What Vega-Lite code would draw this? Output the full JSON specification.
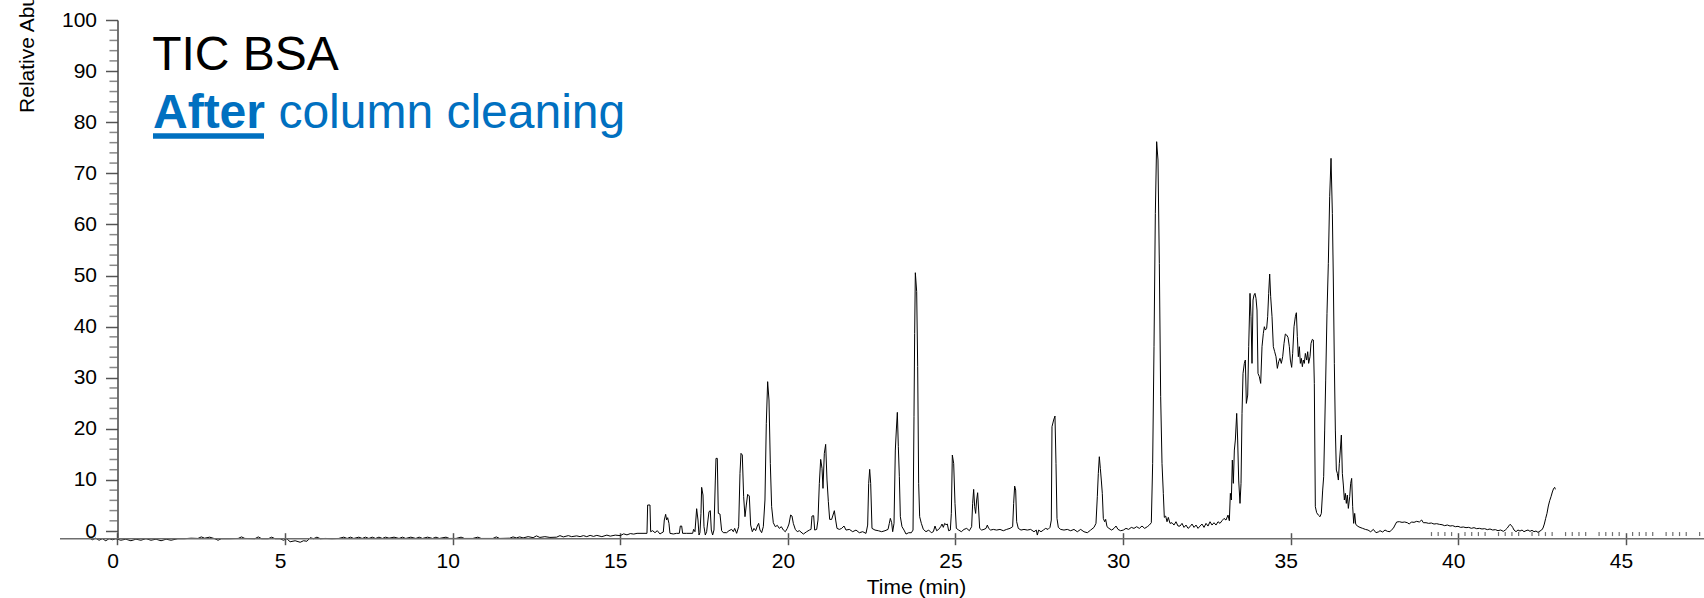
{
  "$schema": "https://vega.github.io/schema/vega-lite/v6.json",
  "autosize": {"type": "none"},
  "padding": {"left": 60, "top": 20, "right": 0, "bottom": 59.3},
  "width": 1644,
  "height": 518.7,
  "background": "white",
  "config": {"view": {"stroke": null}, "font": "Liberation Sans"},
  "datasets": {
    "trace": [
      {"t": -0.85, "v": -1.3}, {"t": -0.75, "v": -1.7}, {"t": -0.65, "v": -1.4}, {"t": -0.55, "v": -1.8}, {"t": -0.45, "v": -1.5},
      {"t": -0.35, "v": -1.9}, {"t": -0.25, "v": -1.5}, {"t": -0.15, "v": -1.7}, {"t": -0.05, "v": -1.5}, {"t": 0.1, "v": -1.8},
      {"t": 0.25, "v": -1.6}, {"t": 0.4, "v": -1.9}, {"t": 0.55, "v": -1.6}, {"t": 0.7, "v": -1.8}, {"t": 0.85, "v": -1.5},
      {"t": 1.0, "v": -1.8}, {"t": 1.15, "v": -1.6}, {"t": 1.3, "v": -1.9}, {"t": 1.45, "v": -1.6}, {"t": 1.6, "v": -1.8},
      {"t": 1.8, "v": -1.5}, {"t": 2.0, "v": -1.5}, {"t": 2.2, "v": -1.4}, {"t": 2.4, "v": -1.45}, {"t": 2.5, "v": -1.15},
      {"t": 2.6, "v": -1.4}, {"t": 2.75, "v": -1.2}, {"t": 2.9, "v": -1.5}, {"t": 3.0, "v": -1.8}, {"t": 3.1, "v": -1.5},
      {"t": 3.35, "v": -1.5}, {"t": 3.6, "v": -1.45}, {"t": 3.7, "v": -1.15}, {"t": 3.8, "v": -1.45}, {"t": 4.1, "v": -1.5},
      {"t": 4.2, "v": -1.15}, {"t": 4.3, "v": -1.5}, {"t": 4.5, "v": -1.5}, {"t": 4.6, "v": -1.2}, {"t": 4.7, "v": -1.5},
      {"t": 4.85, "v": -1.5}, {"t": 4.95, "v": -1.8}, {"t": 5.05, "v": -1.5}, {"t": 5.15, "v": -2.1}, {"t": 5.3, "v": -1.9},
      {"t": 5.45, "v": -2.2}, {"t": 5.55, "v": -1.9}, {"t": 5.65, "v": -2.0}, {"t": 5.75, "v": -1.3}, {"t": 5.85, "v": -1.5},
      {"t": 5.95, "v": -1.2}, {"t": 6.05, "v": -1.5}, {"t": 6.2, "v": -1.45}, {"t": 6.4, "v": -1.5}, {"t": 6.6, "v": -1.45},
      {"t": 6.75, "v": -1.2}, {"t": 6.85, "v": -1.45}, {"t": 6.95, "v": -1.2}, {"t": 7.05, "v": -1.45}, {"t": 7.2, "v": -1.2},
      {"t": 7.3, "v": -1.45}, {"t": 7.4, "v": -1.2}, {"t": 7.5, "v": -1.45}, {"t": 7.6, "v": -1.2}, {"t": 7.7, "v": -1.45},
      {"t": 7.8, "v": -1.2}, {"t": 7.9, "v": -1.45}, {"t": 8.0, "v": -1.2}, {"t": 8.1, "v": -1.4}, {"t": 8.25, "v": -1.2},
      {"t": 8.4, "v": -1.45}, {"t": 8.5, "v": -1.2}, {"t": 8.6, "v": -1.45}, {"t": 8.75, "v": -1.2}, {"t": 8.9, "v": -1.45},
      {"t": 9.0, "v": -1.2}, {"t": 9.1, "v": -1.45}, {"t": 9.25, "v": -1.2}, {"t": 9.4, "v": -1.45}, {"t": 9.5, "v": -1.2},
      {"t": 9.6, "v": -1.45}, {"t": 9.8, "v": -1.2}, {"t": 9.9, "v": -1.45}, {"t": 10.1, "v": -1.45}, {"t": 10.25, "v": -1.2},
      {"t": 10.35, "v": -1.45}, {"t": 10.6, "v": -1.45}, {"t": 10.75, "v": -1.2}, {"t": 10.85, "v": -1.45}, {"t": 11.2, "v": -1.45},
      {"t": 11.3, "v": -1.15}, {"t": 11.4, "v": -1.45}, {"t": 11.7, "v": -1.4}, {"t": 11.8, "v": -1.15}, {"t": 11.9, "v": -1.35},
      {"t": 12.0, "v": -1.15}, {"t": 12.1, "v": -1.35}, {"t": 12.25, "v": -1.1}, {"t": 12.4, "v": -1.3}, {"t": 12.5, "v": -0.95},
      {"t": 12.6, "v": -1.25}, {"t": 12.75, "v": -1.1}, {"t": 12.9, "v": -1.25}, {"t": 13.1, "v": -1.2}, {"t": 13.2, "v": -0.9},
      {"t": 13.3, "v": -1.15}, {"t": 13.45, "v": -0.9}, {"t": 13.55, "v": -1.1}, {"t": 13.7, "v": -0.95}, {"t": 13.8, "v": -1.1},
      {"t": 13.9, "v": -0.9}, {"t": 14.0, "v": -1.1}, {"t": 14.1, "v": -0.85}, {"t": 14.2, "v": -1.05}, {"t": 14.3, "v": -0.85},
      {"t": 14.45, "v": -1.1}, {"t": 14.6, "v": -0.8}, {"t": 14.7, "v": -1.0}, {"t": 14.85, "v": -0.8}, {"t": 15.0, "v": -0.9},
      {"t": 15.1, "v": -0.55}, {"t": 15.2, "v": -0.75}, {"t": 15.3, "v": -0.5}, {"t": 15.4, "v": -0.6}, {"t": 15.5, "v": -0.45},
      {"t": 15.796, "v": -0.45}, {"t": 15.816, "v": 5.09}, {"t": 15.886, "v": 5.09}, {"t": 15.906, "v": -0.13}, {"t": 15.965, "v": 0.07},
      {"t": 16.035, "v": -0.32}, {"t": 16.104, "v": 0.07}, {"t": 16.184, "v": -0.58}, {"t": 16.244, "v": -0.32}, {"t": 16.283, "v": -0.19},
      {"t": 16.313, "v": 2.16}, {"t": 16.353, "v": 3.27}, {"t": 16.383, "v": 2.16}, {"t": 16.413, "v": 2.61}, {"t": 16.452, "v": 1.5},
      {"t": 16.482, "v": -0.45}, {"t": 16.582, "v": -0.58}, {"t": 16.681, "v": -0.45}, {"t": 16.761, "v": -0.45}, {"t": 16.791, "v": 0.98},
      {"t": 16.831, "v": 0.98}, {"t": 16.86, "v": -0.45}, {"t": 16.98, "v": -0.45}, {"t": 17.158, "v": -0.45}, {"t": 17.188, "v": 0.33},
      {"t": 17.228, "v": -0.13}, {"t": 17.278, "v": 4.37}, {"t": 17.318, "v": 2.16}, {"t": 17.348, "v": -0.78}, {"t": 17.377, "v": -0.32},
      {"t": 17.407, "v": 3.46}, {"t": 17.427, "v": 8.55}, {"t": 17.467, "v": 7.05}, {"t": 17.497, "v": 0.85}, {"t": 17.536, "v": -0.78},
      {"t": 17.576, "v": -0.13}, {"t": 17.616, "v": 2.16}, {"t": 17.646, "v": 3.79}, {"t": 17.686, "v": 3.98}, {"t": 17.715, "v": 0.2},
      {"t": 17.755, "v": -0.78}, {"t": 17.795, "v": 0.2}, {"t": 17.835, "v": 9.98}, {"t": 17.855, "v": 14.22}, {"t": 17.894, "v": 14.22},
      {"t": 17.924, "v": 3.46}, {"t": 17.974, "v": 3.33}, {"t": 18.024, "v": 0.07}, {"t": 18.073, "v": -0.32}, {"t": 18.173, "v": -0.32},
      {"t": 18.243, "v": 0.07}, {"t": 18.322, "v": 0.33}, {"t": 18.372, "v": -0.13}, {"t": 18.412, "v": 0.52}, {"t": 18.471, "v": -0.45},
      {"t": 18.531, "v": 0.85}, {"t": 18.571, "v": 11.29}, {"t": 18.601, "v": 15.2}, {"t": 18.64, "v": 14.88}, {"t": 18.68, "v": 6.72},
      {"t": 18.72, "v": 2.81}, {"t": 18.76, "v": 5.09}, {"t": 18.8, "v": 7.18}, {"t": 18.849, "v": 6.85}, {"t": 18.889, "v": 1.17},
      {"t": 18.939, "v": -0.13}, {"t": 18.988, "v": 0.52}, {"t": 19.038, "v": 0.07}, {"t": 19.088, "v": 0.98}, {"t": 19.127, "v": 1.5},
      {"t": 19.167, "v": 0.2}, {"t": 19.217, "v": -0.32}, {"t": 19.267, "v": 0.85}, {"t": 19.316, "v": 6.07}, {"t": 19.356, "v": 21.07},
      {"t": 19.396, "v": 29.23}, {"t": 19.436, "v": 25.64}, {"t": 19.476, "v": 13.24}, {"t": 19.515, "v": 4.76}, {"t": 19.565, "v": 1.63},
      {"t": 19.625, "v": 0.85}, {"t": 19.685, "v": 1.11}, {"t": 19.744, "v": 0.52}, {"t": 19.804, "v": 0.85}, {"t": 19.864, "v": 0.2},
      {"t": 19.923, "v": -0.13}, {"t": 19.983, "v": 0.52}, {"t": 20.032, "v": 1.37}, {"t": 20.082, "v": 3.14}, {"t": 20.122, "v": 2.94},
      {"t": 20.162, "v": 1.5}, {"t": 20.221, "v": 0.33}, {"t": 20.281, "v": -0.13}, {"t": 20.341, "v": 0.07}, {"t": 20.461, "v": -0.59},
      {"t": 20.56, "v": -0.13}, {"t": 20.64, "v": 0.19}, {"t": 20.69, "v": 0.32}, {"t": 20.719, "v": 2.93}, {"t": 20.769, "v": 3.0},
      {"t": 20.799, "v": 0.19}, {"t": 20.859, "v": 0.32}, {"t": 20.898, "v": 2.15}, {"t": 20.938, "v": 9.33}, {"t": 20.978, "v": 14.02},
      {"t": 21.018, "v": 12.26}, {"t": 21.047, "v": 8.35}, {"t": 21.087, "v": 15.2}, {"t": 21.127, "v": 16.96}, {"t": 21.167, "v": 9.98},
      {"t": 21.207, "v": 5.74}, {"t": 21.246, "v": 2.28}, {"t": 21.306, "v": 2.28}, {"t": 21.346, "v": 3.13}, {"t": 21.386, "v": 3.98},
      {"t": 21.425, "v": 2.15}, {"t": 21.465, "v": 0.52}, {"t": 21.535, "v": 0.32}, {"t": 21.604, "v": 0.52}, {"t": 21.674, "v": 0.98},
      {"t": 21.734, "v": 0.19}, {"t": 21.833, "v": 0.32}, {"t": 21.933, "v": -0.13}, {"t": 22.032, "v": 0.19}, {"t": 22.131, "v": -0.33},
      {"t": 22.231, "v": -0.13}, {"t": 22.33, "v": -0.46}, {"t": 22.38, "v": 1.17}, {"t": 22.41, "v": 9.33}, {"t": 22.44, "v": 12.07},
      {"t": 22.47, "v": 9.33}, {"t": 22.509, "v": 0.52}, {"t": 22.599, "v": 0.19}, {"t": 22.698, "v": 0.06}, {"t": 22.798, "v": -0.13},
      {"t": 22.897, "v": 0.06}, {"t": 22.987, "v": 0.32}, {"t": 23.026, "v": 1.5}, {"t": 23.056, "v": 2.48}, {"t": 23.096, "v": 1.63},
      {"t": 23.126, "v": -0.13}, {"t": 23.166, "v": 1.5}, {"t": 23.205, "v": 15.85}, {"t": 23.235, "v": 19.77}, {"t": 23.265, "v": 23.22},
      {"t": 23.295, "v": 16.5}, {"t": 23.325, "v": 10.63}, {"t": 23.355, "v": 2.8}, {"t": 23.404, "v": 0.85}, {"t": 23.464, "v": 0.19},
      {"t": 23.524, "v": -0.59}, {"t": 23.603, "v": -0.33}, {"t": 23.683, "v": -0.33}, {"t": 23.733, "v": 0.19}, {"t": 23.762, "v": 22.37},
      {"t": 23.782, "v": 38.68}, {"t": 23.802, "v": 50.55}, {"t": 23.842, "v": 46.84}, {"t": 23.872, "v": 32.16}, {"t": 23.901, "v": 9.33},
      {"t": 23.931, "v": 2.8}, {"t": 23.981, "v": 1.5}, {"t": 24.041, "v": 0.32}, {"t": 24.12, "v": -0.13}, {"t": 24.2, "v": 0.19},
      {"t": 24.279, "v": -0.33}, {"t": 24.339, "v": -0.13}, {"t": 24.389, "v": 0.98}, {"t": 24.438, "v": 0.06}, {"t": 24.498, "v": 0.32},
      {"t": 24.558, "v": 0.85}, {"t": 24.598, "v": 1.37}, {"t": 24.637, "v": 0.72}, {"t": 24.677, "v": 1.5}, {"t": 24.717, "v": 1.24},
      {"t": 24.757, "v": 1.37}, {"t": 24.796, "v": 0.06}, {"t": 24.846, "v": 0.19}, {"t": 24.876, "v": 3.46}, {"t": 24.906, "v": 14.87},
      {"t": 24.946, "v": 13.24}, {"t": 24.985, "v": 5.41}, {"t": 25.025, "v": 0.52}, {"t": 25.095, "v": 0.19}, {"t": 25.174, "v": -0.13},
      {"t": 25.254, "v": 0.32}, {"t": 25.334, "v": 0.52}, {"t": 25.413, "v": 0.06}, {"t": 25.482, "v": 0.85}, {"t": 25.512, "v": 5.41},
      {"t": 25.542, "v": 8.15}, {"t": 25.572, "v": 4.76}, {"t": 25.601, "v": 3.45}, {"t": 25.631, "v": 6.07}, {"t": 25.661, "v": 7.5},
      {"t": 25.691, "v": 4.11}, {"t": 25.721, "v": 0.52}, {"t": 25.78, "v": 0.19}, {"t": 25.85, "v": 0.32}, {"t": 25.91, "v": 0.52},
      {"t": 25.95, "v": 1.17}, {"t": 25.989, "v": 0.52}, {"t": 26.049, "v": 0.19}, {"t": 26.128, "v": 0.32}, {"t": 26.228, "v": 0.19},
      {"t": 26.327, "v": 0.32}, {"t": 26.427, "v": 0.06}, {"t": 26.526, "v": 0.32}, {"t": 26.626, "v": 0.52}, {"t": 26.705, "v": 0.85},
      {"t": 26.735, "v": 5.41}, {"t": 26.765, "v": 8.8}, {"t": 26.795, "v": 8.02}, {"t": 26.825, "v": 1.82}, {"t": 26.874, "v": 0.52},
      {"t": 26.954, "v": 0.19}, {"t": 27.043, "v": 0.32}, {"t": 27.143, "v": 0.19}, {"t": 27.242, "v": 0.32}, {"t": 27.342, "v": -0.14},
      {"t": 27.411, "v": 0.19}, {"t": 27.441, "v": -0.79}, {"t": 27.481, "v": 0.19}, {"t": 27.551, "v": -0.14}, {"t": 27.62, "v": 0.19},
      {"t": 27.69, "v": 0.52}, {"t": 27.76, "v": 0.32}, {"t": 27.819, "v": 0.71}, {"t": 27.859, "v": 2.15}, {"t": 27.879, "v": 20.41},
      {"t": 27.928, "v": 21.72}, {"t": 27.968, "v": 22.5}, {"t": 27.998, "v": 13.24}, {"t": 28.028, "v": 2.47}, {"t": 28.068, "v": 0.71},
      {"t": 28.137, "v": 0.32}, {"t": 28.237, "v": 0.19}, {"t": 28.336, "v": 0.32}, {"t": 28.436, "v": 0.06}, {"t": 28.535, "v": 0.32},
      {"t": 28.634, "v": -0.14}, {"t": 28.734, "v": 0.32}, {"t": 28.833, "v": -0.14}, {"t": 28.933, "v": -0.33}, {"t": 29.032, "v": 0.19},
      {"t": 29.132, "v": 0.71}, {"t": 29.191, "v": 1.5}, {"t": 29.231, "v": 6.72}, {"t": 29.261, "v": 11.28}, {"t": 29.291, "v": 14.54},
      {"t": 29.321, "v": 12.26}, {"t": 29.35, "v": 9.98}, {"t": 29.38, "v": 7.37}, {"t": 29.41, "v": 2.47}, {"t": 29.45, "v": 1.82},
      {"t": 29.48, "v": 2.28}, {"t": 29.52, "v": 0.85}, {"t": 29.579, "v": 0.52}, {"t": 29.659, "v": 0.19}, {"t": 29.729, "v": 0.52},
      {"t": 29.788, "v": 0.98}, {"t": 29.848, "v": 0.32}, {"t": 29.927, "v": 0.06}, {"t": 30.007, "v": 0.19}, {"t": 30.086, "v": 0.52},
      {"t": 30.166, "v": 0.32}, {"t": 30.245, "v": 0.71}, {"t": 30.325, "v": 0.52}, {"t": 30.405, "v": 0.85}, {"t": 30.484, "v": 0.52},
      {"t": 30.564, "v": 0.98}, {"t": 30.643, "v": 0.52}, {"t": 30.723, "v": 0.85}, {"t": 30.783, "v": 1.17}, {"t": 30.842, "v": 1.63},
      {"t": 30.882, "v": 13.24}, {"t": 30.922, "v": 36.07}, {"t": 30.962, "v": 62.16}, {"t": 31.001, "v": 76.19}, {"t": 31.041, "v": 72.6},
      {"t": 31.081, "v": 52.38}, {"t": 31.121, "v": 26.29}, {"t": 31.161, "v": 13.24}, {"t": 31.2, "v": 7.37}, {"t": 31.23, "v": 2.67},
      {"t": 31.27, "v": 2.93}, {"t": 31.31, "v": 1.82}, {"t": 31.349, "v": 2.67}, {"t": 31.399, "v": 1.5}, {"t": 31.459, "v": 1.63},
      {"t": 31.518, "v": 1.17}, {"t": 31.578, "v": 1.82}, {"t": 31.638, "v": 0.98}, {"t": 31.698, "v": 0.97}, {"t": 31.758, "v": 1.5},
      {"t": 31.817, "v": 0.71}, {"t": 31.877, "v": 1.17}, {"t": 31.937, "v": 0.52}, {"t": 31.996, "v": 0.85}, {"t": 32.056, "v": 1.37},
      {"t": 32.116, "v": 0.71}, {"t": 32.175, "v": 1.17}, {"t": 32.235, "v": 0.52}, {"t": 32.295, "v": 0.97}, {"t": 32.354, "v": 1.37},
      {"t": 32.414, "v": 0.71}, {"t": 32.474, "v": 1.5}, {"t": 32.533, "v": 0.97}, {"t": 32.593, "v": 1.82}, {"t": 32.653, "v": 1.17},
      {"t": 32.712, "v": 1.63}, {"t": 32.772, "v": 1.17}, {"t": 32.832, "v": 1.82}, {"t": 32.891, "v": 1.5}, {"t": 32.951, "v": 2.02},
      {"t": 33.011, "v": 2.47}, {"t": 33.07, "v": 2.15}, {"t": 33.13, "v": 3.12}, {"t": 33.17, "v": 2.02}, {"t": 33.2, "v": 7.37},
      {"t": 33.229, "v": 6.07}, {"t": 33.259, "v": 13.89}, {"t": 33.289, "v": 9.33}, {"t": 33.319, "v": 15.85}, {"t": 33.349, "v": 17.81},
      {"t": 33.389, "v": 23.02}, {"t": 33.418, "v": 17.81}, {"t": 33.448, "v": 9.98}, {"t": 33.488, "v": 5.41}, {"t": 33.518, "v": 9.33},
      {"t": 33.548, "v": 23.02}, {"t": 33.578, "v": 30.85}, {"t": 33.617, "v": 32.81}, {"t": 33.647, "v": 33.46}, {"t": 33.677, "v": 24.98},
      {"t": 33.717, "v": 26.61}, {"t": 33.747, "v": 36.07}, {"t": 33.786, "v": 46.51}, {"t": 33.816, "v": 41.94}, {"t": 33.846, "v": 32.81},
      {"t": 33.876, "v": 45.2}, {"t": 33.906, "v": 46.18}, {"t": 33.935, "v": 46.51}, {"t": 33.965, "v": 45.53}, {"t": 33.995, "v": 43.25},
      {"t": 34.025, "v": 30.85}, {"t": 34.065, "v": 30.2}, {"t": 34.105, "v": 28.89}, {"t": 34.144, "v": 36.07}, {"t": 34.184, "v": 38.68},
      {"t": 34.214, "v": 39.98}, {"t": 34.244, "v": 39.33}, {"t": 34.283, "v": 39.66}, {"t": 34.313, "v": 41.94}, {"t": 34.343, "v": 46.51},
      {"t": 34.373, "v": 50.29}, {"t": 34.403, "v": 45.85}, {"t": 34.443, "v": 41.94}, {"t": 34.482, "v": 36.07}, {"t": 34.522, "v": 35.09},
      {"t": 34.562, "v": 34.11}, {"t": 34.602, "v": 31.83}, {"t": 34.641, "v": 33.13}, {"t": 34.681, "v": 33.79}, {"t": 34.721, "v": 32.81},
      {"t": 34.761, "v": 34.11}, {"t": 34.801, "v": 36.72}, {"t": 34.84, "v": 38.55}, {"t": 34.88, "v": 38.35}, {"t": 34.92, "v": 37.9},
      {"t": 34.96, "v": 36.07}, {"t": 34.99, "v": 33.46}, {"t": 35.029, "v": 32.03}, {"t": 35.059, "v": 34.76}, {"t": 35.099, "v": 39.98},
      {"t": 35.139, "v": 41.94}, {"t": 35.169, "v": 42.72}, {"t": 35.198, "v": 38.03}, {"t": 35.228, "v": 34.11}, {"t": 35.258, "v": 36.07},
      {"t": 35.288, "v": 32.81}, {"t": 35.318, "v": 33.79}, {"t": 35.348, "v": 32.16}, {"t": 35.377, "v": 33.46}, {"t": 35.407, "v": 32.81},
      {"t": 35.437, "v": 34.76}, {"t": 35.477, "v": 33.46}, {"t": 35.507, "v": 35.09}, {"t": 35.536, "v": 32.81}, {"t": 35.576, "v": 34.11},
      {"t": 35.606, "v": 36.72}, {"t": 35.646, "v": 37.51}, {"t": 35.676, "v": 37.38}, {"t": 35.705, "v": 28.89}, {"t": 35.735, "v": 4.76},
      {"t": 35.775, "v": 3.58}, {"t": 35.825, "v": 3.12}, {"t": 35.875, "v": 2.8}, {"t": 35.914, "v": 3.45}, {"t": 35.954, "v": 8.02},
      {"t": 35.984, "v": 10.63}, {"t": 36.014, "v": 19.76}, {"t": 36.044, "v": 29.54}, {"t": 36.083, "v": 42.59}, {"t": 36.123, "v": 52.38},
      {"t": 36.163, "v": 65.42}, {"t": 36.203, "v": 72.93}, {"t": 36.243, "v": 62.16}, {"t": 36.272, "v": 49.12}, {"t": 36.302, "v": 32.81},
      {"t": 36.332, "v": 19.76}, {"t": 36.362, "v": 11.93}, {"t": 36.392, "v": 11.28}, {"t": 36.422, "v": 9.98}, {"t": 36.451, "v": 13.24},
      {"t": 36.481, "v": 15.85}, {"t": 36.511, "v": 18.78}, {"t": 36.541, "v": 11.28}, {"t": 36.571, "v": 9.0}, {"t": 36.601, "v": 6.07},
      {"t": 36.631, "v": 7.37}, {"t": 36.66, "v": 5.41}, {"t": 36.69, "v": 7.04}, {"t": 36.72, "v": 4.43}, {"t": 36.76, "v": 6.72},
      {"t": 36.789, "v": 9.33}, {"t": 36.819, "v": 10.3}, {"t": 36.849, "v": 4.76}, {"t": 36.879, "v": 1.5}, {"t": 36.909, "v": 3.45},
      {"t": 36.939, "v": 1.37}, {"t": 36.988, "v": 0.97}, {"t": 37.068, "v": 0.71}, {"t": 37.147, "v": 0.52}, {"t": 37.227, "v": 0.32},
      {"t": 37.307, "v": 0.19}, {"t": 37.386, "v": -0.14}, {"t": 37.466, "v": 0.32}, {"t": 37.545, "v": -0.33}, {"t": 37.625, "v": -0.14},
      {"t": 37.664, "v": 0.07}, {"t": 37.744, "v": -0.19}, {"t": 37.814, "v": 0.2}, {"t": 37.883, "v": -0.06}, {"t": 37.963, "v": -0.13},
      {"t": 38.022, "v": 0.33}, {"t": 38.062, "v": 0.53}, {"t": 38.112, "v": 1.18}, {"t": 38.162, "v": 1.77}, {"t": 38.241, "v": 1.83},
      {"t": 38.321, "v": 1.7}, {"t": 38.4, "v": 1.77}, {"t": 38.48, "v": 1.63}, {"t": 38.539, "v": 1.37}, {"t": 38.599, "v": 1.77},
      {"t": 38.679, "v": 1.7}, {"t": 38.758, "v": 1.9}, {"t": 38.838, "v": 1.77}, {"t": 38.907, "v": 2.16}, {"t": 38.957, "v": 1.63},
      {"t": 39.037, "v": 1.63}, {"t": 39.116, "v": 1.5}, {"t": 39.196, "v": 1.57}, {"t": 39.275, "v": 1.37}, {"t": 39.355, "v": 1.44},
      {"t": 39.434, "v": 1.31}, {"t": 39.514, "v": 1.24}, {"t": 39.594, "v": 1.05}, {"t": 39.673, "v": 1.18}, {"t": 39.753, "v": 0.98},
      {"t": 39.832, "v": 1.05}, {"t": 39.912, "v": 0.85}, {"t": 39.991, "v": 0.92}, {"t": 40.071, "v": 0.72}, {"t": 40.15, "v": 0.79},
      {"t": 40.23, "v": 0.66}, {"t": 40.31, "v": 0.72}, {"t": 40.389, "v": 0.53}, {"t": 40.469, "v": 0.66}, {"t": 40.548, "v": 0.46},
      {"t": 40.628, "v": 0.53}, {"t": 40.707, "v": 0.4}, {"t": 40.787, "v": 0.46}, {"t": 40.866, "v": 0.27}, {"t": 40.946, "v": 0.4},
      {"t": 41.025, "v": 0.2}, {"t": 41.105, "v": 0.27}, {"t": 41.185, "v": 0.07}, {"t": 41.264, "v": 0.2}, {"t": 41.344, "v": -0.06},
      {"t": 41.403, "v": 0.2}, {"t": 41.463, "v": 0.59}, {"t": 41.503, "v": 0.98}, {"t": 41.543, "v": 1.31}, {"t": 41.582, "v": 1.11},
      {"t": 41.622, "v": 0.72}, {"t": 41.662, "v": 0.2}, {"t": 41.722, "v": -0.13}, {"t": 41.781, "v": 0.2}, {"t": 41.841, "v": 0.0},
      {"t": 41.901, "v": 0.2}, {"t": 41.96, "v": -0.13}, {"t": 42.02, "v": 0.07}, {"t": 42.08, "v": 0.2}, {"t": 42.139, "v": -0.06},
      {"t": 42.199, "v": 0.14}, {"t": 42.259, "v": -0.13}, {"t": 42.318, "v": 0.0}, {"t": 42.378, "v": -0.26}, {"t": 42.437, "v": 0.0},
      {"t": 42.487, "v": 0.2}, {"t": 42.527, "v": 0.59}, {"t": 42.567, "v": 1.37}, {"t": 42.607, "v": 2.48}, {"t": 42.646, "v": 3.46},
      {"t": 42.686, "v": 4.9}, {"t": 42.726, "v": 5.94}, {"t": 42.766, "v": 6.72}, {"t": 42.806, "v": 7.64}, {"t": 42.845, "v": 8.35},
      {"t": 42.875, "v": 8.55}, {"t": 42.895, "v": 8.16}
    ],
    "minorTicks": [
      {"t": 39.2}, {"t": 39.4}, {"t": 39.6}, {"t": 39.8}, {"t": 40.2}, {"t": 40.4}, {"t": 40.6}, {"t": 40.8},
      {"t": 41.2}, {"t": 41.4}, {"t": 41.6}, {"t": 41.8}, {"t": 42.2}, {"t": 42.4}, {"t": 42.6}, {"t": 42.8},
      {"t": 43.2}, {"t": 43.4}, {"t": 43.6}, {"t": 43.8}, {"t": 44.2}, {"t": 44.4}, {"t": 44.6}, {"t": 44.8},
      {"t": 45.2}, {"t": 45.4}, {"t": 45.6}, {"t": 45.8}, {"t": 46.2}, {"t": 46.4}, {"t": 46.6}, {"t": 46.8}, {"t": 47.2}
    ],
    "yMinor": [
      {"m": 2}, {"m": 4}, {"m": 6}, {"m": 8}, {"m": 12}, {"m": 14}, {"m": 16}, {"m": 18},
      {"m": 22}, {"m": 24}, {"m": 26}, {"m": 28}, {"m": 32}, {"m": 34}, {"m": 36}, {"m": 38},
      {"m": 42}, {"m": 44}, {"m": 46}, {"m": 48}, {"m": 52}, {"m": 54}, {"m": 56}, {"m": 58},
      {"m": 62}, {"m": 64}, {"m": 66}, {"m": 68}, {"m": 72}, {"m": 74}, {"m": 76}, {"m": 78},
      {"m": 82}, {"m": 84}, {"m": 86}, {"m": 88}, {"m": 92}, {"m": 94}, {"m": 96}, {"m": 98}
    ],
    "one": [{"k": 1}]
  },
  "layer": [
    {
      "data": {"name": "trace"},
      "mark": {"type": "line", "color": "black", "strokeWidth": 1, "interpolate": "linear"},
      "encoding": {
        "x": {
          "field": "t", "type": "quantitative",
          "scale": {"domain": [-1.715, 47.33], "nice": false, "zero": false},
          "axis": {
            "values": [0, 5, 10, 15, 20, 25, 30, 35, 40, 45],
            "offset": -6,
            "domain": false,
            "grid": false,
            "ticks": true,
            "tickSize": 12,
            "tickColor": "#555555",
            "tickWidth": 1.5,
            "labelPadding": 6,
            "labelOffset": -5,
            "labelOverlap": false,
            "labelFont": "Liberation Sans",
            "labelFontSize": 21,
            "labelColor": "black",
            "title": "Time (min)",
            "titleFont": "Liberation Sans",
            "titleFontSize": 21,
            "titleFontWeight": "normal",
            "titleColor": "black",
            "titleX": 856,
            "titleY": 60.8,
            "titleAlign": "center",
            "titleBaseline": "alphabetic"
          }
        },
        "y": {
          "field": "v", "type": "quantitative",
          "scale": {"domain": [-1.5, 100], "nice": false, "zero": false},
          "axis": {
            "values": [0, 10, 20, 30, 40, 50, 60, 70, 80, 90, 100],
            "labelOverlap": false,
            "ticks": true,
            "tickSize": 12,
            "offset": -57.5,
            "grid": false,
            "domainColor": "#444444",
            "domainWidth": 1.5,
            "tickColor": "#555555",
            "tickWidth": 1.5,
            "labelPadding": 9,
            "labelFont": "Liberation Sans",
            "labelFontSize": 21,
            "labelColor": "black",
            "title": "Relative Abundance",
            "titleFont": "Liberation Sans",
            "titleFontSize": 21,
            "titleFontWeight": "normal",
            "titleColor": "black",
            "titleAngle": 270,
            "titleX": -84.5,
            "titleY": -1,
            "titleAlign": "center",
            "titleBaseline": "alphabetic"
          }
        }
      }
    },
    {
      "data": {"name": "one"},
      "mark": {"type": "rule", "color": "#6e6e6e", "strokeWidth": 1.6},
      "encoding": {
        "y": {"datum": -1.5, "type": "quantitative"}
      }
    },
    {
      "data": {"name": "minorTicks"},
      "mark": {"type": "tick", "orient": "vertical", "size": 4, "thickness": 1.2, "color": "#333333"},
      "encoding": {
        "x": {"field": "t", "type": "quantitative"},
        "y": {"datum": -0.59, "type": "quantitative"}
      }
    },
    {
      "data": {"name": "yMinor"},
      "mark": {"type": "tick", "orient": "horizontal", "size": 8, "thickness": 1.5, "color": "#555555"},
      "encoding": {
        "x": {"datum": -0.12, "type": "quantitative"},
        "y": {"field": "m", "type": "quantitative"}
      }
    },
    {
      "data": {"name": "one"},
      "mark": {"type": "text", "text": "TIC BSA", "font": "Liberation Sans", "fontSize": 48, "align": "left", "baseline": "alphabetic", "color": "black"},
      "encoding": {"x": {"datum": 1.035, "type": "quantitative"}, "y": {"datum": 90.12, "type": "quantitative"}}
    },
    {
      "data": {"name": "one"},
      "mark": {"type": "text", "text": "After", "font": "Liberation Sans", "fontSize": 48, "fontWeight": "bold", "align": "left", "baseline": "alphabetic", "color": "#0070C0"},
      "encoding": {"x": {"datum": 1.059, "type": "quantitative"}, "y": {"datum": 78.81, "type": "quantitative"}}
    },
    {
      "data": {"name": "one"},
      "mark": {"type": "text", "text": "column cleaning", "font": "Liberation Sans", "fontSize": 48, "align": "left", "baseline": "alphabetic", "color": "#0070C0"},
      "encoding": {"x": {"datum": 4.8, "type": "quantitative"}, "y": {"datum": 78.81, "type": "quantitative"}}
    },
    {
      "data": {"name": "one"},
      "mark": {"type": "rule", "color": "#0070C0", "strokeWidth": 5.3},
      "encoding": {"x": {"datum": 1.059, "type": "quantitative"}, "x2": {"datum": 4.371}, "y": {"datum": 77.3, "type": "quantitative"}}
    }
  ]
}
